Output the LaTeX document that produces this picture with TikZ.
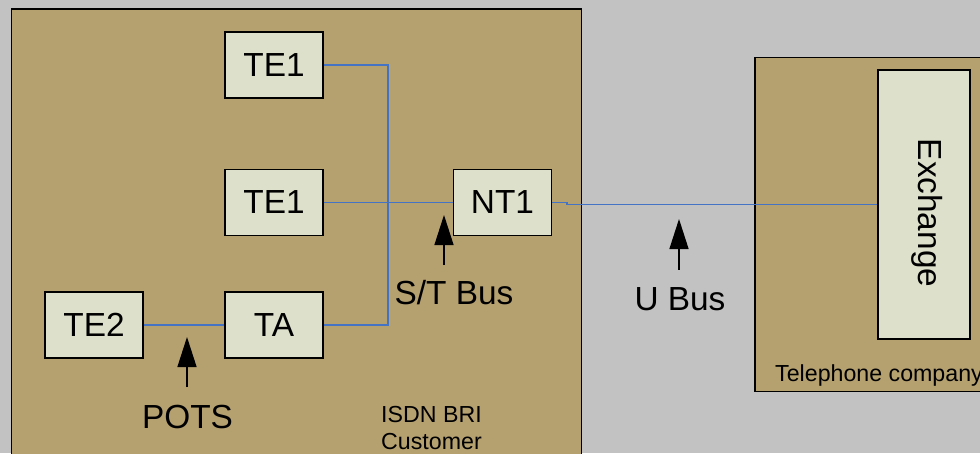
\documentclass[tikz,border=0pt]{standalone}
\usepackage{fontspec}
\setmainfont{Liberation Sans}
\usetikzlibrary{arrows.meta}
\definecolor{metal}{HTML}{C2C2C2}
\definecolor{tan}{HTML}{B5A070}
\definecolor{unit}{HTML}{DDE1CB}
\definecolor{wire}{HTML}{4472C4}
\begin{document}
\begin{tikzpicture}[
    device/.style={rectangle, draw, thick, fill=unit, minimum width=1.96cm, minimum height=1.32cm, inner sep=0pt, font=\fontsize{19}{22}\selectfont},
    site/.style={draw, thick, fill=tan},
    bus/.style={wire, thick},
    pointer/.style={-{Triangle[length=0.6cm, width=0.38cm]}, thick},
    big/.style={font=\fontsize{19}{22}\selectfont},
    small/.style={font=\fontsize{13.2}{15}\selectfont}]
        \useasboundingbox (0,0) rectangle (19.6,9.06);
        \clip (0,0) rectangle (19.6,9.06);
        \fill[metal] (0,0) rectangle (19.6,9.06);

        % Areas
        \draw[site] (0.23,8.88) rectangle (11.63,-0.5);
        \draw[site] (15.1,7.91) rectangle (20,1.23);

        % Nodes
        \node (te1a) at (5.48,7.76) [device] {TE1};
        \node (te1b) at (5.48,5.01) [device] {TE1};
        \node (nt1)  at (10.05,5.01) [device] {NT1};
        \node (te2)  at (1.88,2.56) [device] {TE2};
        \node (ta)   at (5.48,2.56) [device] {TA};
        \node (exch) at (18.48,4.97) [device, minimum width=1.84cm, minimum height=5.38cm] {};
        \node[big, rotate=-90] at (18.55,4.8) {Exchange};
        \coordinate (top)  at (7.76,7.76);
        \coordinate (low)  at (7.76,2.56);
        \coordinate (kink) at (11.34,5.01);

        % Labels
        \node (pots) at (3.75,0.72) [big] {POTS};
        \node (st)   at (9.08,3.2) [big] {S/T Bus};
        \node (ubus) at (13.6,3.08) [big] {U Bus};
        \node (cust) at (7.5,0.5) [small, anchor=west, align=left] {ISDN BRI\\[0pt]Customer};
        \node (tel)  at (15.38,1.54) [small, anchor=west] {Telephone company};

        % Edges
        \draw[bus] (te1a) -- (top) -- (low) -- (ta);
        \draw[bus] (te1b) -- (nt1);
        \draw[bus] (te2) -- (ta);
        \draw[bus] (nt1) -- (kink) -- (kink |- exch.west) -- (exch.west);

        % Arrows
        \draw[pointer] (3.74,1.32) -- (3.74,2.32);
        \draw[pointer] (8.88,3.76) -- (8.88,4.76);
        \draw[pointer] (13.58,3.66) -- (13.58,4.68);
      \end{tikzpicture}
\end{document}
